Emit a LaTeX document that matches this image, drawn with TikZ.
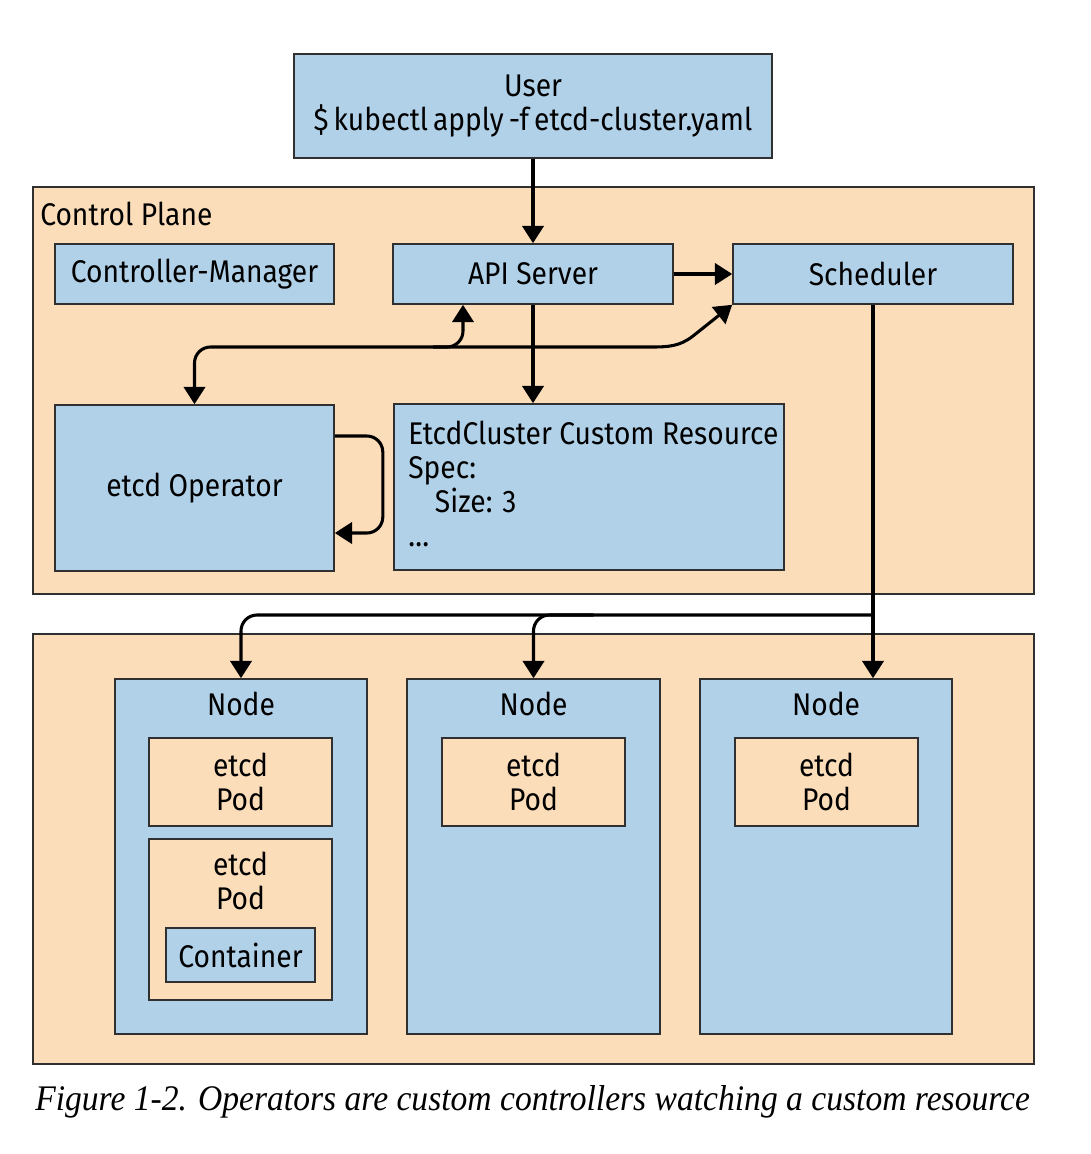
\documentclass[tikz,border=0pt]{standalone}
\usepackage{graphicx}
\usepackage{fontspec}
\setmainfont{Fira Sans}[FakeStretch=0.9]
\newfontfamily\capfont{Liberation Serif}
\usetikzlibrary{arrows.meta,calc}
\definecolor{cblue}{HTML}{B1D1E9}
\definecolor{cpeach}{HTML}{FCDDBA}
\definecolor{cline}{HTML}{303030}
\begin{document}
\begin{tikzpicture}[x=0.75pt,y=-0.75pt,
  font=\fontsize{23.5}{25.5}\selectfont,
  box/.style={draw=cline, line width=1.2pt, inner sep=0pt, align=center},
  sz/.style 2 args={minimum width=#1*0.75pt, minimum height=#2*0.75pt},
  bl/.style={box, fill=cblue},
  pc/.style={box, fill=cpeach},
  tip/.tip={Triangle[width=16pt,length=13pt]},
  arr/.style={line width=2.3pt, -tip},
  arrb/.style={line width=2.3pt, tip-tip},
  txt/.style={inner sep=0pt, align=center}]
\fill[white] (0,0) rectangle (1090,1154);
\useasboundingbox (0,0) rectangle (1090,1154);
% outer areas
\node[pc, sz={1001}{407}] (cp) at (533.5,390.5) {};
\node[pc, sz={1001}{430}] (wk) at (533.5,849) {};
\node[txt, anchor=base west] (cplabel) at (40,225) {Control Plane};
% user
\node[bl, sz={478}{104}] (user) at (533,106) {User\\{\spaceskip=0.16em \$ kubectl apply -f etcd-cluster.yaml}};
% control plane boxes
\node[bl, sz={279}{60}] (cm) at (194.5,274) {Controller-Manager};
\node[bl, sz={280}{60}] (api) at (533,274) {API Server};
\node[bl, sz={280}{60}] (sched) at (873,274) {Scheduler};
\node[bl, sz={279}{166}] (op) at (194.5,488) {etcd Operator};
\node[bl, sz={390}{166}] (ecr) at (589,487) {};
\node[inner sep=0pt, anchor=north west, align=left] (ecrtext) at (408,421)
  {EtcdCluster Custom Resource\\Spec:\\\hspace*{20pt}Size: 3\\\ldots};
% worker nodes
\node[bl, sz={252}{355}] (n1) at (241,856.5) {};
\node[bl, sz={253}{355}] (n2) at (533.5,856.5) {};
\node[bl, sz={252}{355}] (n3) at (826,856.5) {};
\node[txt] (n1t) at ($(n1.north)+(0,26)$) {Node};
\node[txt] (n2t) at ($(n2.north)+(0,26)$) {Node};
\node[txt] (n3t) at ($(n3.north)+(0,26)$) {Node};
\node[pc, sz={183}{88}] (p1) at (240.5,782) {etcd\\Pod};
\node[pc, sz={183}{161}] (p2) at (240.5,919.5) {};
\node[txt] (p2t) at ($(p2.north)+(0,43)$) {etcd\\Pod};
\node[bl, sz={149}{54}] (cont) at (240.5,955) {Container};
\node[pc, sz={183}{88}] (p3) at (533.5,782) {etcd\\Pod};
\node[pc, sz={183}{88}] (p4) at (826.5,782) {etcd\\Pod};
% connectors
\coordinate (bus) at (0,347);
\coordinate (bus2) at (0,615);
\coordinate (apiin) at ($(api.south)+(-70,0)$);
\coordinate (bstart) at ($(api.south)+(-100,0)$);
\coordinate (n2turn) at ($(n2.north)+(60,0)$);
\draw[arr] (user.south) -- (api.north);
\draw[arr] (api.east) -- (sched.west);
\draw[arr] (api.south) -- (api.south |- ecr.north);
\draw[arrb, rounded corners=12pt] (op.north) |- (apiin |- bus) -- (apiin);
\draw[arr] (bstart |- bus) -- (652,347) to[out=0,in=-142] (693,336) -- (sched.south west);
\draw[arr, rounded corners=12pt] ([yshift=39pt]op.east) -- ++(48,0) -- ++(0,97) -- ([yshift=-33.75pt]op.east);
\draw[arr] (sched.south) -- (sched.south |- n3.north);
\draw[arr, rounded corners=12pt] (sched.south |- bus2) -| (n1.north);
\draw[arr, rounded corners=12pt] (n2turn |- bus2) -| (n2.north);
% caption
\node[inner sep=0pt, anchor=base west] (cap) at (35,1110)
  {\resizebox{746pt}{\height}{\capfont\itshape\fontsize{27}{30}\selectfont Figure 1-2. Operators are custom controllers watching a custom resource}};
\end{tikzpicture}
\end{document}
